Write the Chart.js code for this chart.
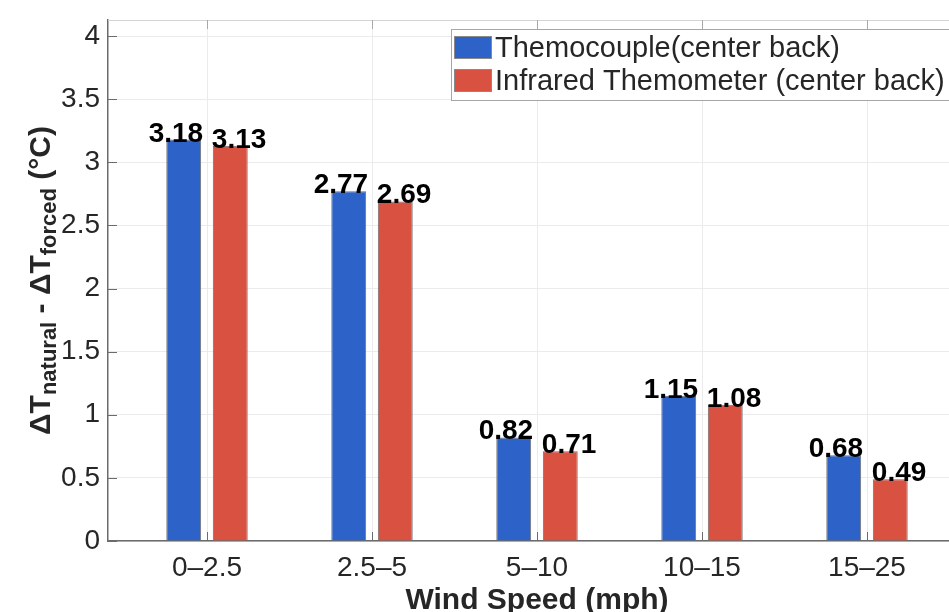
<!DOCTYPE html>
<html>
<head>
<meta charset="utf-8">
<script src="https://cdn.jsdelivr.net/npm/chart.js@4"></script>
<style>
  html, body { margin: 0; padding: 0; background: #fff; overflow: hidden; }
  #wrap { width: 1000px; height: 612px; }
</style>
</head>
<body>
<div id="wrap"><canvas id="windChart"></canvas></div>
<script>
const categories = ['0\u20132.5', '2.5\u20135', '5\u201310', '10\u201315', '15\u201325'];
const thermocouple = [3.18, 2.77, 0.82, 1.15, 0.68];
const infrared = [3.13, 2.69, 0.71, 1.08, 0.49];
const seriesNames = ['Themocouple(center back)', 'Infrared Themometer (center back)'];
const seriesColors = ['#2d62c8', '#d95140'];

const FONT = '"Liberation Sans", Arial, Helvetica, sans-serif';

function toPoints(values) {
    return values.map(function (v, i) { return { x: i + 1, y: v }; });
}

// extra drawing: axis titles, inner ticks, top border, value labels, legend box
const extras = {
    id: 'extras',
    afterDraw(chart) {
        const ctx = chart.ctx;
        const area = chart.chartArea;
        const xs = chart.scales.x;
        const ys = chart.scales.y;
        ctx.save();

        // top border
        ctx.strokeStyle = '#d4d4d4';
        ctx.lineWidth = 1;
        ctx.beginPath();
        ctx.moveTo(area.left, area.top + 0.5);
        ctx.lineTo(area.right, area.top + 0.5);
        ctx.stroke();

        // inward ticks
        ctx.strokeStyle = '#6b6b6b';
        ys.ticks.forEach(function (t) {
            const y = Math.round(ys.getPixelForValue(t.value)) + 0.5;
            ctx.beginPath();
            ctx.moveTo(area.left, y);
            ctx.lineTo(area.left + 9, y);
            ctx.stroke();
        });
        xs.ticks.forEach(function (t) {
            const x = Math.round(xs.getPixelForValue(t.value)) + 0.5;
            ctx.strokeStyle = '#6b6b6b';
            ctx.beginPath();
            ctx.moveTo(x, area.bottom);
            ctx.lineTo(x, area.bottom - 9);
            ctx.stroke();
            ctx.strokeStyle = '#a8a8a8';
            ctx.beginPath();
            ctx.moveTo(x, area.top);
            ctx.lineTo(x, area.top + 9);
            ctx.stroke();
        });

        // value labels
        ctx.fillStyle = '#000';
        ctx.font = 'bold 28px ' + FONT;
        ctx.textBaseline = 'alphabetic';
        chart.data.datasets.forEach(function (ds, di) {
            const meta = chart.getDatasetMeta(di);
            meta.data.forEach(function (bar, i) {
                const txt = ds.data[i].y.toFixed(2);
                if (di === 0) {
                    ctx.textAlign = 'right';
                    ctx.fillText(txt, bar.x + bar.width / 2 + 2, bar.y + 2);
                } else {
                    ctx.textAlign = 'left';
                    ctx.fillText(txt, bar.x - bar.width / 2 - 1, bar.y + 2);
                }
            });
        });

        // legend
        const lx = 451, ly = 29;
        ctx.fillStyle = '#fff';
        ctx.fillRect(lx, ly, 600, 71);
        ctx.strokeStyle = '#a6a6a6';
        ctx.strokeRect(lx + 0.5, ly + 0.5, 600, 71);
        ctx.font = '29px ' + FONT;
        ctx.textAlign = 'left';
        ctx.textBaseline = 'middle';
        chart.data.datasets.forEach(function (ds, di) {
            const cy = 47.5 + di * 33;
            ctx.fillStyle = ds.backgroundColor;
            ctx.fillRect(454, cy - 11.5, 38, 23);
            ctx.strokeStyle = '#8a8a8a';
            ctx.strokeRect(454.5, cy - 11, 37, 22);
            ctx.fillStyle = '#262626';
            ctx.fillText(ds.label, 495, cy + 1);
        });

        // x title
        ctx.fillStyle = '#262626';
        ctx.font = 'bold 30px ' + FONT;
        ctx.textAlign = 'center';
        ctx.textBaseline = 'alphabetic';
        ctx.fillText('Wind Speed (mph)', (area.left + area.right) / 2, 609);

        // y title with subscripts
        const parts = [
            ['\u0394T', 30, 0], ['natural', 22, 6], [' - \u0394T', 30, 0],
            ['forced', 22, 6], [' (\u00B0C)', 30, 0]
        ];
        let total = 0;
        parts.forEach(function (p) {
            ctx.font = 'bold ' + p[1] + 'px ' + FONT;
            p.push(ctx.measureText(p[0]).width);
            total += p[3];
        });
        ctx.translate(50, (area.top + area.bottom) / 2);
        ctx.rotate(-Math.PI / 2);
        ctx.textAlign = 'left';
        let pos = -total / 2;
        parts.forEach(function (p) {
            ctx.font = 'bold ' + p[1] + 'px ' + FONT;
            ctx.fillText(p[0], pos, p[2]);
            pos += p[3];
        });

        ctx.restore();
    }
};

const ctx = document.getElementById('windChart').getContext('2d');
new Chart(ctx, {
    type: 'bar',
    data: {
        datasets: [{
            label: seriesNames[0],
            data: toPoints(thermocouple),
            backgroundColor: seriesColors[0],
            borderColor: '#6f6f6f',
            borderWidth: 1
        }, {
            label: seriesNames[1],
            data: toPoints(infrared),
            backgroundColor: seriesColors[1],
            borderColor: '#6f6f6f',
            borderWidth: 1
        }]
    },
    options: {
        responsive: true,
        maintainAspectRatio: false,
        animation: false,
        categoryPercentage: 0.564,
        barPercentage: 0.75,
        layout: { padding: { left: 0, top: 20, right: 34, bottom: 0 } },
        plugins: {
            legend: { display: false },
            tooltip: { enabled: false }
        },
        scales: {
            x: {
                type: 'linear',
                min: 0.4,
                max: 5.6,
                offset: false,
                grid: { color: '#ebebeb', drawTicks: false, offset: false },
                border: { display: true, color: '#6b6b6b', width: 1.5 },
                ticks: {
                    stepSize: 1,
                    includeBounds: false,
                    autoSkip: false,
                    maxRotation: 0,
                    padding: 10,
                    color: '#262626',
                    font: { size: 28, family: FONT },
                    callback: function (v) { return categories[v - 1]; }
                },
                afterFit: function (s) {
                    s.height = 71;
                    s.paddingLeft = 0;
                    s.paddingRight = 0;
                }
            },
            y: {
                min: 0,
                max: 4.127,
                grid: { color: '#ebebeb', drawTicks: false },
                border: { display: true, color: '#6b6b6b', width: 1.5 },
                ticks: {
                    stepSize: 0.5,
                    includeBounds: false,
                    padding: 8,
                    color: '#262626',
                    font: { size: 28, family: FONT },
                    callback: function (v) { return String(Math.round(v * 10) / 10); }
                },
                afterFit: function (s) {
                    s.width = 108;
                    s.paddingTop = 0;
                    s.paddingBottom = 0;
                }
            }
        }
    },
    plugins: [extras]
});
</script>
</body>
</html>
